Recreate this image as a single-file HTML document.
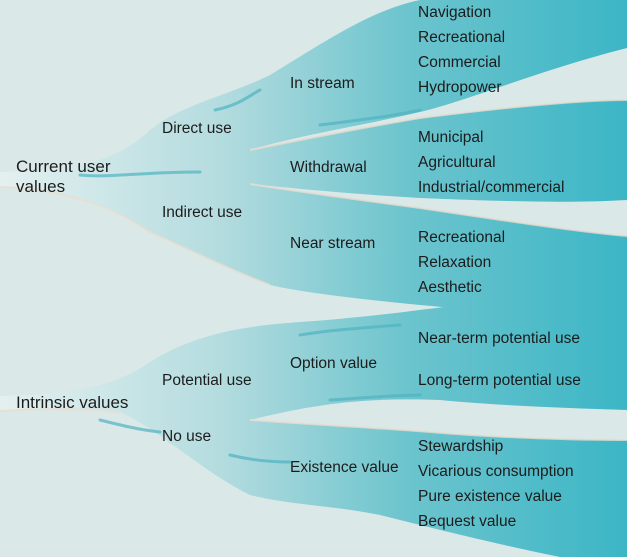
<!DOCTYPE html>
<html><head><style>
body{margin:0;width:627px;height:557px;overflow:hidden;background:#dbe8e8;}
svg{position:absolute;left:0;top:0}
.t{position:absolute;font-family:"Liberation Sans",sans-serif;font-size:15.5px;color:#1c1c1c;white-space:nowrap;line-height:17px}
</style></head><body>
<svg width="627" height="557" viewBox="0 0 627 557">
<defs>
<linearGradient id="g" x1="0" x2="627" y1="0" y2="0" gradientUnits="userSpaceOnUse">
<stop offset="0" stop-color="#e4f0f0"/><stop offset="0.35" stop-color="#b4dcdf"/><stop offset="0.65" stop-color="#6cc4cd"/><stop offset="1" stop-color="#3cb6c6"/>
</linearGradient>
</defs>
<rect width="627" height="557" fill="#dbe8e8"/>
<g fill="url(#g)">
<path d="M0,172 C60,170 110,168 150,130 C180,105 230,95 270,75 C320,45 370,10 420,0 L627,0 L627,48 C540,70 470,100 420,112 C360,126 300,135 250,150 C300,140 360,128 420,118 C500,108 580,100 627,100 L627,200 C560,204 470,200 420,198 C350,194 290,188 250,184 C300,192 360,200 420,208 C500,220 580,232 627,236 L627,332 C560,320 480,310 420,305 C350,298 300,292 270,285 C230,270 190,250 150,232 C110,205 60,188 0,186 Z"/>
<path d="M0,396 C60,395 110,390 150,362 C200,330 260,325 300,322 C360,318 420,310 460,305 C520,300 580,305 627,310 L627,410 C560,408 490,405 440,400 C380,398 330,400 250,420 C320,425 380,428 430,432 C500,438 580,440 627,440 L627,557 L560,557 C500,545 440,530 380,515 C330,505 290,505 250,495 C200,470 160,430 120,412 C80,406 40,408 0,410 Z"/>
</g>
<g fill="none" stroke="#e8ddd0" stroke-width="2" opacity="0.8">
<path d="M0,187 C60,189 110,205 150,232 C190,250 230,270 270,285"/>
<path d="M250,150 C300,140 360,128 420,118 C500,108 580,100 627,100"/>
<path d="M250,184 C300,192 360,200 420,208 C500,220 580,232 627,236"/>
<path d="M0,411 C40,409 80,407 120,413"/>
<path d="M250,420 C320,425 380,428 430,432 C500,438 580,440 627,440"/>
</g>
<g fill="none" stroke="#4fb3c0" stroke-width="3" opacity="0.7" stroke-linecap="round">
<path d="M80,175 C110,178 140,172 200,172"/>
<path d="M215,110 C240,105 250,95 260,90"/>
<path d="M320,125 C360,120 400,115 420,110"/>
<path d="M300,335 C330,330 360,328 400,325"/>
<path d="M330,400 C360,398 400,395 420,395"/>
<path d="M230,455 C250,460 270,462 290,462"/>
<path d="M100,420 C120,425 140,430 160,432"/>
</g>
</svg>
<div class="t" style="left:418px;top:4px">Navigation</div>
<div class="t" style="left:418px;top:29px">Recreational</div>
<div class="t" style="left:418px;top:54px">Commercial</div>
<div class="t" style="left:418px;top:79px">Hydropower</div>
<div class="t" style="left:290px;top:75px">In stream</div>
<div class="t" style="left:162px;top:120px">Direct use</div>
<div class="t" style="left:16px;top:157px;font-size:17px;line-height:20px">Current user<br>values</div>
<div class="t" style="left:418px;top:129px">Municipal</div>
<div class="t" style="left:418px;top:154px">Agricultural</div>
<div class="t" style="left:418px;top:179px">Industrial/commercial</div>
<div class="t" style="left:290px;top:159px">Withdrawal</div>
<div class="t" style="left:162px;top:204px">Indirect use</div>
<div class="t" style="left:418px;top:229px">Recreational</div>
<div class="t" style="left:418px;top:254px">Relaxation</div>
<div class="t" style="left:418px;top:279px">Aesthetic</div>
<div class="t" style="left:290px;top:235px">Near stream</div>
<div class="t" style="left:418px;top:330px">Near-term potential use</div>
<div class="t" style="left:418px;top:372px">Long-term potential use</div>
<div class="t" style="left:290px;top:355px">Option value</div>
<div class="t" style="left:162px;top:372px">Potential use</div>
<div class="t" style="left:16px;top:394px;font-size:17px">Intrinsic values</div>
<div class="t" style="left:162px;top:428px">No use</div>
<div class="t" style="left:290px;top:459px">Existence value</div>
<div class="t" style="left:418px;top:438px">Stewardship</div>
<div class="t" style="left:418px;top:463px">Vicarious consumption</div>
<div class="t" style="left:418px;top:488px">Pure existence value</div>
<div class="t" style="left:418px;top:513px">Bequest value</div>
</body></html>
